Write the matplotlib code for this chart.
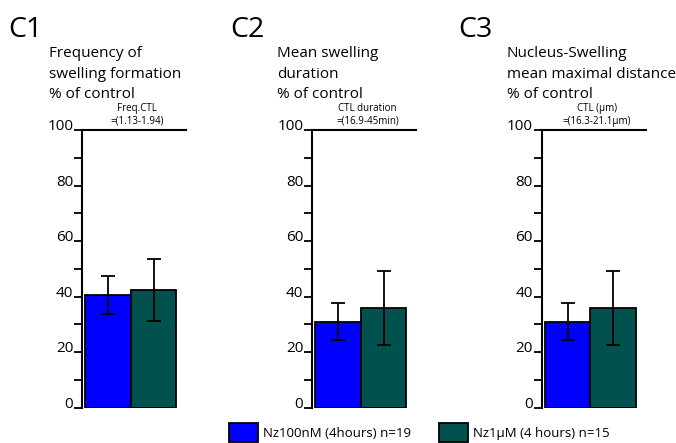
import matplotlib
matplotlib.use('Agg')
import matplotlib.pyplot as plt
from matplotlib.patches import Patch

plt.rcParams['font.family'] = ['Open Sans', 'DejaVu Sans']

# data
panels = ['C1', 'C2', 'C3']
titles = ['Frequency of\nswelling formation\n% of control',
          'Mean swelling\nduration\n% of control',
          'Nucleus-Swelling\nmean maximal distance\n% of control']
ctl_notes = ['Freq.CTL\n=(1.13-1.94)',
             'CTL duration\n=(16.9-45min)',
             'CTL (µm)\n=(16.3-21.1µm)']
groups = ['Nz100nM (4hours) n=19', 'Nz1µM (4 hours) n=15']
colors = ['#0000ff', '#01524f']
nz100_mean = [40.6, 31.0, 31.0]
nz100_err = [6.8, 6.6, 6.6]
nz1u_mean = [42.5, 36.0, 36.0]
nz1u_err = [11.2, 13.3, 13.3]

W, H = 676, 443
fig = plt.figure(figsize=(W / 100, H / 100), dpi=100)

ax_left = [82.3, 312.3, 541.7]
ax_w = 104.0
ax_bottom = 407.7
ax_top = 130.0
title_x = [49, 277, 507]
label_x = [8, 230, 458]

for i in range(3):
    ax = fig.add_axes([ax_left[i] / W, 1 - ax_bottom / H, ax_w / W,
                       (ax_bottom - ax_top) / H])
    means = [nz100_mean[i], nz1u_mean[i]]
    errs = [nz100_err[i], nz1u_err[i]]
    ax.bar([0, 1], means, width=1.0, color=colors, edgecolor='black',
           linewidth=1.3, zorder=2)
    ax.errorbar([0, 1], means, yerr=errs, fmt='none', ecolor='black',
                elinewidth=1.3, capsize=5, capthick=1.3, zorder=3)
    ax.set_xlim(-0.57, 1.72)
    ax.set_ylim(0, 100)
    ax.set_xticks([])
    ax.set_yticks([0, 20, 40, 60, 80, 100])
    ax.set_yticks([10, 30, 50, 70, 90], minor=True)
    ax.tick_params(axis='y', which='both', direction='out', length=5.5,
                   width=1.3, pad=1, labelsize=11)
    for lab in ax.get_yticklabels():
        lab.set_verticalalignment('baseline')
    ax.spines['right'].set_visible(False)
    ax.spines['bottom'].set_visible(False)
    ax.spines['left'].set_linewidth(1.5)
    ax.spines['top'].set_linewidth(1.5)
    ax.patch.set_visible(False)

    # CTL note above the 100 line
    ax.text(0.53, 1.012, ctl_notes[i], transform=ax.transAxes, ha='center',
            va='bottom', fontsize=7, linespacing=1.2)

    fig.text(label_x[i] / W, 1 - 37 / H, panels[i], fontsize=20.5,
             va='baseline', ha='left')
    for j, line in enumerate(titles[i].split('\n')):
        fig.text(title_x[i] / W, 1 - (57 + 20.5 * j) / H, line, fontsize=11,
                 va='baseline', ha='left')

handles = [Patch(facecolor=c, edgecolor='black', linewidth=1.3) for c in colors]
fig.legend(handles, groups, loc='upper left', ncol=2, frameon=False,
           bbox_to_anchor=(229 / W, 1 - 423 / H), borderpad=0, borderaxespad=0,
           handlelength=2.2, handleheight=1.8, handletextpad=0.38,
           columnspacing=2.1, fontsize=9.5)

fig.savefig('out.png', dpi=100)
